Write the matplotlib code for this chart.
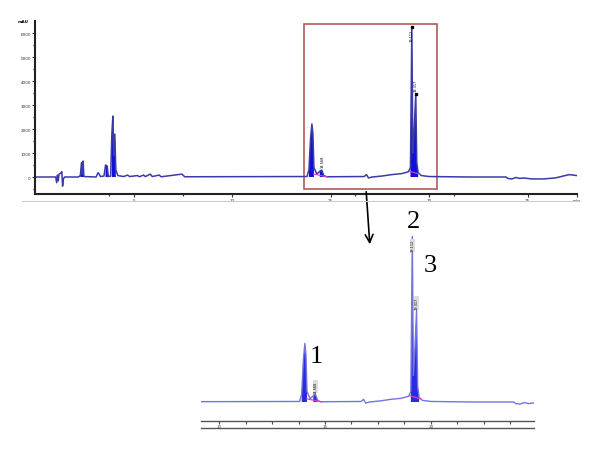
import numpy as np
import matplotlib.pyplot as plt
from matplotlib.patches import Rectangle
from matplotlib.lines import Line2D

# retention time (min) and detector signal (mAU)
rt = [0.0, 0.9, 1.05, 1.1, 1.14, 1.18, 1.22, 1.3, 1.36, 1.4, 1.44, 1.5,
      2.2, 2.3, 2.36, 2.4, 2.44, 2.48, 3.1, 3.2, 3.26, 3.32, 3.5, 3.58,
      3.66, 3.72, 3.84, 3.9, 3.95, 4.0, 4.05, 4.1, 4.2, 4.5, 4.7, 4.8,
      5.2, 5.3, 5.5, 5.6, 5.85, 5.95, 6.3, 6.4, 7.45, 7.6, 13.8, 13.9,
      13.98, 14.05, 14.1, 14.15, 14.3, 14.45, 14.55, 14.65, 14.8, 16.7,
      16.82, 16.92, 17.1, 17.6, 18.1, 18.6, 18.95, 19.05, 19.12, 19.17,
      19.23, 19.32, 19.37, 19.44, 19.6, 20.0, 22.0, 23.9, 24.0, 24.2,
      24.4, 24.6, 24.8, 25.2, 25.8, 26.4, 26.9, 27.1, 27.3, 27.5]
sig = [0, 0, 0, -240, 80, -160, 120, 160, 220, -380, -80, 0,
       0, 60, 600, 120, 666, 20, 0, 180, 120, 20, 40, 500,
       460, 20, 40, 1800, 2540, 900, 1790, 300, 60, 20, 80, 20,
       60, 10, 80, 20, 120, 20, 80, 10, 120, 10, 20, 300,
       1600, 2210, 1800, 400, 120, 240, 292, 60, 10, 20,
       100, -40, 0, 40, 100, 140, 220, 400, 6250, 1000,
       1800, 3460, 600, 180, 60, 20, 0, 0, -60, -80,
       -20, -60, -40, -80, -80, -40, 60, 100, 80, 60]

# windows drawn as solid peaks
peak_windows = [(2.3, 2.5), (3.55, 3.72), (3.85, 4.15), (13.9, 14.2),
                (14.45, 14.65), (19.0, 19.45)]
# integration baselines (magenta)
base_rt = [[14.15, 14.85], [19.0, 19.5]]
base_sig = [[120, 0], [240, 120]]
# peak retention-time tags
tag_rt = [14.57, 19.12, 19.32]
tag_txt = ['14.568', '19.112', '19.317']

W, H = 600, 452


def box(l, t, r, b):
    return [l / W, 1 - b / H, (r - l) / W, (b - t) / H]


t = np.array(rt)
s = np.array(sig)
inpeak = np.zeros(len(t), bool)
for a, b in peak_windows:
    inpeak |= (t >= a) & (t <= b)

fig = plt.figure(figsize=(6, 4.52), dpi=100)

# ---- full chromatogram
ax = fig.add_axes(box(35, 22, 577, 195))
ax.fill_between(t, 0, s, where=inpeak, color='#1010d8', lw=0)
ax.plot(t, s, color='#3a3aa8', lw=1.1)
for bx, by in zip(base_rt, base_sig):
    ax.plot(bx, by, color='#e040c0', lw=0.8)
ax.set_xlim(0, 27.5)
ax.set_ylim(-708, 6500)
for side in ['top', 'right']:
    ax.spines[side].set_visible(False)
for side in ['left', 'bottom']:
    ax.spines[side].set_linewidth(1.5)
    ax.spines[side].set_color('#222222')
ax.set_yticks(range(0, 7000, 1000))
ax.set_yticks(range(-500, 6500, 500), minor=True)
ax.set_xticks([5, 10, 15, 20, 25, 27.5])
ax.set_xticklabels(['5', '10', '15', '20', '25', 'min'])
ax.set_xticks([3.75, 7.5, 16.25, 21.25], minor=True)
ax.tick_params(which='both', labelsize=3, length=2, width=0.8, pad=1,
               colors='#333333')
ax.tick_params(which='minor', length=1.5)
ax.text(-0.012, 1.0, 'mAU', transform=ax.transAxes, ha='right', va='center',
        fontsize=3, weight='bold')
ax.plot([19.12], [6250], 's', color='black', ms=1.5)
ax.plot([19.32], [3460], 's', color='black', ms=1.5)
ax.text(19.12, 6200, tag_txt[1], rotation=90, fontsize=2.5, ha='center',
        va='top')
ax.text(19.32, 3600, tag_txt[2], rotation=90, fontsize=2.5, ha='center',
        va='bottom')
ax.text(14.57, 400, tag_txt[0], rotation=90, fontsize=2.5, ha='center',
        va='bottom')
ax.add_patch(Rectangle((13.65, -500), 6.75, 6875, fill=False,
                       ec='#b05a5a', lw=1.2))
fig.add_artist(Line2D([22 / W, 578 / W], [1 - 202 / H] * 2,
                      color='#cccccc', lw=0.8))

# arrow down to the zoomed view
ax.annotate('', xy=(370, H - 248), xycoords='figure pixels',
            xytext=(366, H - 190), textcoords='figure pixels',
            arrowprops=dict(arrowstyle='->', color='black', lw=1.2,
                            mutation_scale=14),
            annotation_clip=False)

# ---- zoomed view
ax2 = fig.add_axes(box(201, 225, 534, 422))
ax2.set_facecolor('none')
ax2.fill_between(t, 0, s, where=inpeak, color='#2a2ae0', lw=0)
ax2.plot(t, s, color='#7474dc', lw=1.0)
for bx, by in zip(base_rt, base_sig):
    ax2.plot(bx, by, color='#e040c0', lw=0.9)
ax2.set_xlim(9.15, 24.86)
ax2.set_ylim(-717, 6717)
for side in ['top', 'right', 'left']:
    ax2.spines[side].set_visible(False)
ax2.spines['bottom'].set_color('#555555')
ax2.spines['bottom'].set_linewidth(1.0)
ax2.set_yticks([])
ax2.set_xticks([10, 15, 20])
ax2.set_xticks(np.arange(10, 24.5, 1.25), minor=True)
ax2.tick_params(which='both', labelsize=3, length=2, width=0.8, pad=0.5,
                colors='#444444')
ax2.text(tag_rt[0], 350, tag_txt[0], rotation=90, fontsize=2.5, ha='center',
         va='bottom', bbox=dict(fc='#dddddd', ec='none', pad=0.3))
ax2.text(tag_rt[1], 6150, tag_txt[1], rotation=90, fontsize=2.5, ha='center',
         va='top', bbox=dict(fc='#dddddd', ec='none', pad=0.3))
ax2.text(tag_rt[2], 3500, tag_txt[2], rotation=90, fontsize=2.5, ha='center',
         va='bottom', bbox=dict(fc='#dddddd', ec='none', pad=0.3))
fig.add_artist(Line2D([201 / W, 534 / W], [1 - 429 / H] * 2,
                      color='#555555', lw=1.0))

serif = ['Liberation Serif', 'DejaVu Serif']
for x, y, lab in [(316, 357, '1'), (413, 222, '2'), (430, 266, '3')]:
    fig.text(x / W, 1 - y / H, lab, ha='center', va='center', fontsize=19,
             family=serif)

fig.savefig('out.png', dpi=100)
